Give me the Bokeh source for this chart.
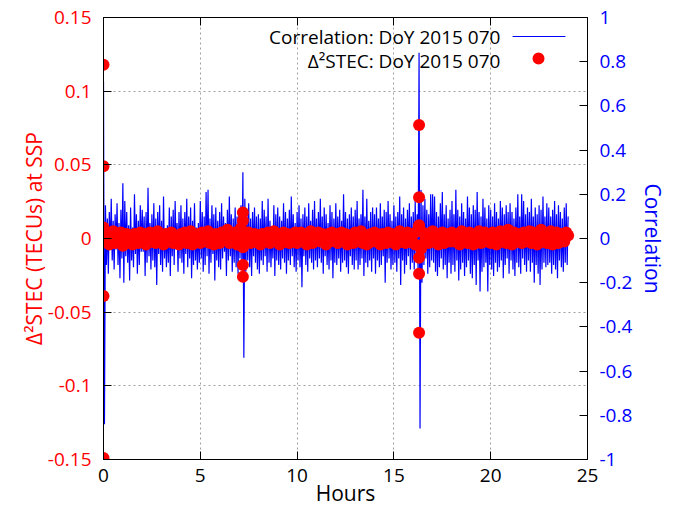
from bokeh.plotting import figure
from bokeh.models import Range1d, LinearAxis, FixedTicker, Label, BoxAnnotation, ColumnDataSource
from bokeh.embed import file_html
from bokeh.resources import INLINE

# ---------------- data ----------------
corr_step_h = 0.05
corr_values = [
    0.71, -0.84, 0.15, -0.12, 0.09, -0.16, 0.12, -0.05, 0.18, -0.10, 0.08, -0.14, 0.11, -0.05, 0.16, -0.12, 0.07, -0.18, 0.13, -0.09,
    0.25, -0.20, 0.17, -0.08, 0.12, -0.11, 0.06, -0.19, 0.14, -0.10, 0.05, -0.13, 0.20, -0.07, 0.11, -0.16, 0.08, -0.12, 0.15, -0.06,
    0.13, -0.06, 0.10, -0.17, 0.12, -0.11, 0.23, -0.08, 0.07, -0.14, 0.11, -0.10, 0.16, -0.13, 0.09, -0.21, 0.12, -0.07, 0.15, -0.12,
    0.08, -0.15, 0.19, -0.09, 0.04, -0.13, 0.06, -0.11, 0.14, -0.17, 0.10, -0.08, 0.13, -0.12, 0.17, -0.05, 0.07, -0.15, 0.12, -0.09,
    0.15, -0.11, 0.09, -0.16, 0.12, -0.07, 0.18, -0.13, 0.10, -0.09, 0.14, -0.18, 0.08, -0.12, 0.16, -0.10, 0.05, -0.14, 0.07, -0.11,
    0.17, -0.09, 0.12, -0.15, 0.10, -0.12, 0.21, -0.08, 0.22, -0.16, 0.09, -0.11, 0.15, -0.07, 0.11, -0.19, 0.14, -0.10, 0.08, -0.13,
    0.12, -0.14, 0.16, -0.09, 0.10, -0.06, 0.07, -0.17, 0.13, -0.10, 0.19, -0.08, 0.11, -0.15, 0.09, -0.11, 0.14, -0.13, 0.10, -0.16,
    0.13, -0.09, 0.15, -0.12, 0.30, -0.54, 0.18, -0.15, 0.11, -0.10, 0.16, -0.13, 0.09, -0.17, 0.12, -0.08, 0.14, -0.11, 0.10, -0.14,
    0.11, -0.16, 0.09, -0.10, 0.17, -0.12, 0.13, -0.08, 0.10, -0.15, 0.18, -0.11, 0.08, -0.13, 0.05, -0.09, 0.15, -0.17, 0.11, -0.10,
    0.14, -0.12, 0.10, -0.14, 0.08, -0.09, 0.16, -0.11, 0.12, -0.16, 0.09, -0.10, 0.13, -0.12, 0.19, -0.08, 0.11, -0.13, 0.07, -0.15,
    0.12, -0.10, 0.15, -0.13, 0.09, -0.22, 0.11, -0.08, 0.14, -0.12, 0.10, -0.15, 0.16, -0.09, 0.08, -0.11, 0.13, -0.14, 0.17, -0.10,
    0.09, -0.13, 0.12, -0.09, 0.18, -0.11, 0.10, -0.16, 0.14, -0.08, 0.11, -0.12, 0.07, -0.14, 0.15, -0.10, 0.12, -0.18, 0.09, -0.11,
    0.16, -0.12, 0.10, -0.09, 0.13, -0.15, 0.08, -0.11, 0.20, -0.10, 0.12, -0.13, 0.09, -0.16, 0.11, -0.08, 0.14, -0.12, 0.10, -0.14,
    0.13, -0.10, 0.17, -0.14, 0.09, -0.12, 0.11, -0.09, 0.22, -0.17, 0.10, -0.11, 0.18, -0.13, 0.08, -0.10, 0.12, -0.15, 0.14, -0.09,
    0.11, -0.16, 0.14, -0.10, 0.09, -0.13, 0.16, -0.12, 0.10, -0.08, 0.13, -0.20, 0.12, -0.11, 0.17, -0.09, 0.11, -0.14, 0.08, -0.12,
    0.15, -0.11, 0.10, -0.15, 0.12, -0.09, 0.19, -0.21, 0.11, -0.10, 0.14, -0.16, 0.09, -0.12, 0.13, -0.08, 0.16, -0.14, 0.10, -0.11,
    0.12, -0.14, 0.17, -0.10, 0.11, -0.15, 0.84, -0.86, 0.22, -0.20, 0.15, -0.12, 0.18, -0.09, 0.13, -0.16, 0.11, -0.13, 0.20, -0.10,
    0.20, -0.11, 0.19, -0.15, 0.12, -0.17, 0.10, -0.13, 0.16, -0.09, 0.21, -0.14, 0.11, -0.12, 0.15, -0.18, 0.09, -0.11, 0.13, -0.16,
    0.17, -0.12, 0.11, -0.15, 0.22, -0.10, 0.13, -0.19, 0.10, -0.14, 0.16, -0.11, 0.12, -0.17, 0.09, -0.13, 0.19, -0.10, 0.14, -0.16,
    0.11, -0.18, 0.15, -0.12, 0.13, -0.21, 0.21, -0.10, 0.12, -0.24, 0.10, -0.15, 0.18, -0.13, 0.14, -0.11, 0.09, -0.24, 0.15, -0.12,
    0.13, -0.14, 0.10, -0.17, 0.16, -0.11, 0.12, -0.15, 0.09, -0.13, 0.17, -0.10, 0.14, -0.18, 0.11, -0.12, 0.15, -0.09, 0.12, -0.16,
    0.16, -0.10, 0.12, -0.14, 0.09, -0.17, 0.14, -0.11, 0.20, -0.13, 0.10, -0.16, 0.20, -0.09, 0.17, -0.12, 0.11, -0.15, 0.14, -0.10,
    0.12, -0.15, 0.18, -0.11, 0.10, -0.20, 0.14, -0.12, 0.11, -0.16, 0.15, -0.21, 0.13, -0.14, 0.19, -0.11, 0.10, -0.13, 0.16, -0.12,
    0.14, -0.11, 0.10, -0.16, 0.13, -0.12, 0.17, -0.14, 0.11, -0.18, 0.15, -0.10, 0.12, -0.13, 0.09, -0.15, 0.14, -0.11, 0.16, -0.12,
    0.10,
]
corr_hours = [round(i * corr_step_h, 2) for i in range(len(corr_values))]

# Delta^2 STEC (TECUs), sampled every 0.1 h from 0 to 24 h
stec_step_h = 0.1
stec_values = [
    0.004, -0.002, 0.003, -0.004, 0.001, 0.005, -0.003, 0.002, -0.001, 0.004, -0.005, 0.002, 0.003, -0.002, 0.001, -0.004, 0.003, 0.000, -0.003, 0.004,
    -0.001, 0.003, -0.004, 0.002, 0.004, -0.002, 0.001, -0.003, 0.005, -0.001, 0.002, -0.004, 0.003, 0.001, -0.002, 0.004, -0.003, 0.002, 0.000, -0.004,
    0.003, -0.002, 0.004, -0.003, 0.001, 0.005, -0.004, 0.002, -0.001, 0.003, -0.003, 0.004, 0.001, -0.002, 0.005, -0.003, 0.002, -0.004, 0.003, 0.001,
    -0.003, 0.004, -0.001, 0.002, 0.006, -0.003, 0.003, -0.002, 0.004, -0.004, 0.002, 0.007, -0.006, 0.003, -0.002, 0.004, -0.003, 0.001, 0.003, -0.002,
    0.002, -0.004, 0.003, 0.001, -0.002, 0.004, -0.003, 0.002, 0.005, -0.001, 0.003, -0.004, 0.001, 0.004, -0.002, 0.003, -0.003, 0.002, -0.001, 0.004,
    -0.003, 0.002, 0.004, -0.002, 0.003, -0.004, 0.001, 0.005, -0.003, 0.002, -0.001, 0.004, -0.002, 0.003, 0.001, -0.004, 0.003, -0.002, 0.004, 0.000,
    0.003, -0.003, 0.002, 0.004, -0.001, 0.003, -0.004, 0.002, 0.001, -0.003, 0.004, -0.002, 0.003, 0.005, -0.003, 0.002, -0.004, 0.001, 0.003, -0.002,
    0.004, -0.001, 0.002, -0.004, 0.003, 0.001, -0.003, 0.004, -0.002, 0.003, 0.000, -0.004, 0.002, 0.005, -0.002, 0.003, -0.003, 0.004, 0.001, -0.002,
    0.003, -0.004, 0.005, 0.008, -0.007, 0.004, -0.002, 0.003, -0.003, 0.002, 0.005, -0.001, 0.003, -0.004, 0.002, 0.004, -0.003, 0.001, 0.003, -0.002,
    0.004, -0.002, 0.003, 0.001, -0.004, 0.005, -0.002, 0.003, -0.003, 0.004, 0.002, -0.004, 0.003, -0.001, 0.005, -0.003, 0.002, 0.004, -0.002, 0.003,
    -0.003, 0.004, 0.002, -0.004, 0.003, 0.005, -0.002, 0.003, -0.003, 0.006, 0.002, -0.004, 0.004, -0.002, 0.003, 0.001, -0.003, 0.004, -0.002, 0.003,
    0.005, -0.003, 0.004, 0.002, -0.004, 0.003, 0.006, -0.002, 0.004, -0.003, 0.003, 0.005, -0.004, 0.002, 0.004, -0.003, 0.003, 0.001, -0.002, 0.004,
    0.002,
]
stec_hours = [round(i * stec_step_h, 2) for i in range(len(stec_values))]

# Outlying Delta^2 STEC points at the three events
stec_event_hours = [0.0, 0.0, 0.0, 0.0, 0.0, 0.0,
                    7.2, 7.2, 7.2, 7.2,
                    16.3, 16.3, 16.3, 16.3, 16.3, 16.3]
stec_event_values = [0.118, 0.049, 0.0075, 0.001, -0.039, -0.149,
                     0.0176, 0.012, -0.018, -0.026,
                     0.077, 0.028, 0.009, -0.013, -0.024, -0.064]

legend_labels = ["Correlation: DoY 2015 070", "\u0394\u00b2STEC: DoY 2015 070"]

x_ticks = [0, 5, 10, 15, 20, 25]
left_ticks = [-0.15, -0.1, -0.05, 0, 0.05, 0.1, 0.15]
left_tick_labels = ["-0.15", "-0.1", "-0.05", "0", "0.05", "0.1", "0.15"]
right_ticks = [-1, -0.8, -0.6, -0.4, -0.2, 0, 0.2, 0.4, 0.6, 0.8, 1]
right_tick_labels = ["-1", "-0.8", "-0.6", "-0.4", "-0.2", "0", "0.2", "0.4", "0.6", "0.8", "1"]

# ---------------- style ----------------
FONT = "Open Sans"
RED = "#ff0000"
BLUE = "#0000ff"
TICK_FS = "19px"
LABEL_FS = "21px"

p = figure(width=670, height=512, output_backend="svg", toolbar_location=None,
           x_range=Range1d(0, 25), y_range=Range1d(-0.15, 0.15),
           min_border_left=103, min_border_right=83, min_border_top=17, min_border_bottom=53,
           x_axis_label="Hours", y_axis_label="\u0394\u00b2STEC (TECUs) at SSP")
p.extra_y_ranges = {"corr": Range1d(-1, 1)}

p.outline_line_color = "black"
p.outline_line_width = 1
p.background_fill_color = "white"
p.border_fill_color = "white"

# grid
for g in (p.xgrid, p.ygrid):
    g.grid_line_color = "#a0a0a0"
    g.grid_line_dash = "2 3"
    g.grid_line_width = 1
p.xgrid.ticker = FixedTicker(ticks=x_ticks[1:-1])
p.ygrid.ticker = FixedTicker(ticks=[t for t in left_ticks if t not in (0, -0.15, 0.15)])

# bottom axis
xa = p.xaxis[0]
xa.ticker = FixedTicker(ticks=x_ticks)
xa.major_label_overrides = {t: str(t) for t in x_ticks}
xa.major_tick_in = 8
xa.major_tick_out = 0
xa.minor_tick_line_color = None
xa.axis_line_color = "black"
xa.major_tick_line_color = "black"
xa.major_label_text_font = FONT
xa.major_label_text_font_size = TICK_FS
xa.major_label_text_color = "black"
xa.major_label_standoff = 9
xa.axis_label_text_font = FONT
xa.axis_label_text_font_size = LABEL_FS
xa.axis_label_text_font_style = "normal"
xa.axis_label_text_color = "black"
xa.axis_label_standoff = -6

# left axis
ya = p.yaxis[0]
ya.ticker = FixedTicker(ticks=left_ticks)
ya.major_label_overrides = dict(zip(left_ticks, left_tick_labels))
ya.major_tick_in = 8
ya.major_tick_out = 0
ya.minor_tick_line_color = None
ya.axis_line_color = "black"
ya.major_tick_line_color = "black"
ya.major_label_text_font = FONT
ya.major_label_text_font_size = TICK_FS
ya.major_label_text_color = RED
ya.major_label_standoff = 12
ya.axis_label_text_font = FONT
ya.axis_label_text_font_size = LABEL_FS
ya.axis_label_text_font_style = "normal"
ya.axis_label_text_color = RED
ya.axis_label_standoff = -3

# right axis
ra = LinearAxis(y_range_name="corr", axis_label="Correlation")
ra.ticker = FixedTicker(ticks=right_ticks)
ra.major_label_overrides = dict(zip(right_ticks, right_tick_labels))
ra.major_tick_in = 8
ra.major_tick_out = 0
ra.minor_tick_line_color = None
ra.axis_line_color = "black"
ra.major_tick_line_color = "black"
ra.major_label_text_font = FONT
ra.major_label_text_font_size = TICK_FS
ra.major_label_text_color = BLUE
ra.major_label_standoff = 12
ra.axis_label_text_font = FONT
ra.axis_label_text_font_size = LABEL_FS
ra.axis_label_text_font_style = "normal"
ra.axis_label_text_color = BLUE
ra.axis_label_standoff = 4
p.add_layout(ra, "right")

# top mirror ticks (no labels)
ta = LinearAxis()
ta.ticker = FixedTicker(ticks=x_ticks)
ta.major_label_overrides = {t: "" for t in x_ticks}
ta.major_tick_in = 8
ta.major_tick_out = 0
ta.minor_tick_line_color = None
ta.axis_line_color = "black"
ta.major_tick_line_color = "black"
ta.major_label_standoff = 0
p.add_layout(ta, "above")

# data
corr_src = ColumnDataSource(dict(h=corr_hours, v=corr_values))
p.line("h", "v", source=corr_src, y_range_name="corr", line_color=BLUE, line_width=1.2)

stec_src = ColumnDataSource(dict(h=stec_hours, v=stec_values))
p.scatter("h", "v", source=stec_src, size=12, fill_color=RED, line_color=None)
ev_src = ColumnDataSource(dict(h=stec_event_hours, v=stec_event_values))
p.scatter("h", "v", source=ev_src, size=12, fill_color=RED, line_color=None)

# legend (text left, key right, as in the original)
p.add_layout(Label(x=20.5, y=0.1371, text=legend_labels[0], text_align="right", text_baseline="middle",
                   text_font=FONT, text_font_size=TICK_FS, text_color="black"))
p.add_layout(Label(x=20.5, y=0.1208, text=legend_labels[1], text_align="right", text_baseline="middle",
                   text_font=FONT, text_font_size=TICK_FS, text_color="black"))
p.add_layout(BoxAnnotation(left=21.13, right=23.86, bottom=0.1368, top=0.1375,
                           fill_color=BLUE, fill_alpha=1, line_color=None))
p.add_layout(BoxAnnotation(left=22.47 - 0.31, right=22.47 + 0.31, bottom=0.1222 - 0.00407, top=0.1222 + 0.00407,
                           fill_color=RED, fill_alpha=1, line_color=None, border_radius=6))

open("out.html", "w").write(file_html(p, INLINE))
